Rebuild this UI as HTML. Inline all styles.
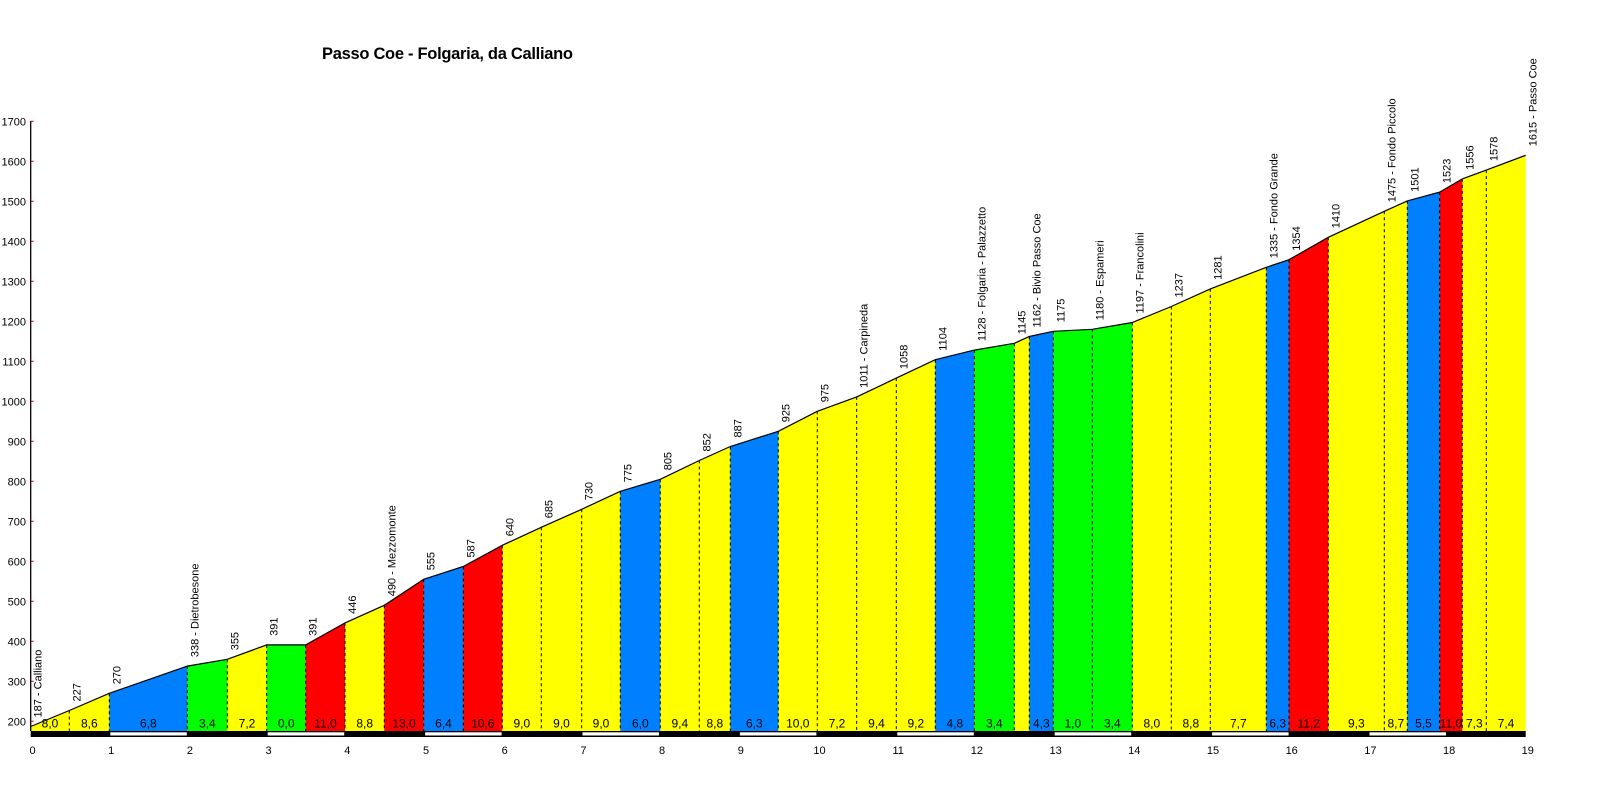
<!DOCTYPE html>
<html><head><meta charset="utf-8"><style>
html,body{margin:0;padding:0;background:#fff;}
svg{display:block;font-family:"Liberation Sans",Arial,sans-serif;}
</style></head><body>
<svg width="1600" height="800" viewBox="0 0 1600 800" xmlns="http://www.w3.org/2000/svg">
<rect width="1600" height="800" fill="#fff"/>
<text x="322" y="59" font-size="16.5" font-weight="bold" textLength="251">Passo Coe - Folgaria, da Calliano</text>

<polygon fill="#ffff00" points="30.7,731 30.7,726.5 69.3,710.5 109.3,693.3 187.3,666.1 227.3,659.3 266.7,644.9 305.7,644.9 345,622.9 384.3,605.3 423.7,579.3 463.3,566.5 502.3,545.3 541.3,527.3 581.7,509.3 620.3,491.3 660.3,479.3 699.3,460.5 730.3,446.5 778.3,431.3 817.3,411.3 856.7,396.9 896.3,378.1 935.3,359.7 974.3,350.1 1014.3,343.3 1029.3,336.5 1053.3,331.3 1092.3,329.3 1132.3,322.5 1171.3,306.5 1210.3,288.9 1266.3,267.3 1289,259.7 1328.3,237.3 1384.3,211.3 1407.3,200.9 1439.7,192.1 1462.3,178.9 1486.3,170.1 1525.7,155.3 1525.7,731"/>
<g>
<polygon fill="#0080ff" points="109.3,731 109.3,693.3 187.3,666.1 187.3,731"/>
<polygon fill="#00ff00" points="187.3,731 187.3,666.1 227.3,659.3 227.3,731"/>
<polygon fill="#00ff00" points="266.7,731 266.7,644.9 305.7,644.9 305.7,731"/>
<polygon fill="#ff0000" points="305.7,731 305.7,644.9 345,622.9 345,731"/>
<polygon fill="#ff0000" points="384.3,731 384.3,605.3 423.7,579.3 423.7,731"/>
<polygon fill="#0080ff" points="423.7,731 423.7,579.3 463.3,566.5 463.3,731"/>
<polygon fill="#ff0000" points="463.3,731 463.3,566.5 502.3,545.3 502.3,731"/>
<polygon fill="#0080ff" points="620.3,731 620.3,491.3 660.3,479.3 660.3,731"/>
<polygon fill="#0080ff" points="730.3,731 730.3,446.5 778.3,431.3 778.3,731"/>
<polygon fill="#0080ff" points="935.3,731 935.3,359.7 974.3,350.1 974.3,731"/>
<polygon fill="#00ff00" points="974.3,731 974.3,350.1 1014.3,343.3 1014.3,731"/>
<polygon fill="#0080ff" points="1029.3,731 1029.3,336.5 1053.3,331.3 1053.3,731"/>
<polygon fill="#00ff00" points="1053.3,731 1053.3,331.3 1092.3,329.3 1132.3,322.5 1132.3,731"/>
<polygon fill="#0080ff" points="1266.3,731 1266.3,267.3 1289,259.7 1289,731"/>
<polygon fill="#ff0000" points="1289,731 1289,259.7 1328.3,237.3 1328.3,731"/>
<polygon fill="#0080ff" points="1407.3,731 1407.3,200.9 1439.7,192.1 1439.7,731"/>
<polygon fill="#ff0000" points="1439.7,731 1439.7,192.1 1462.3,178.9 1462.3,731"/>
</g>
<path fill="none" stroke="#000" stroke-width="1" stroke-dasharray="3,3" d="M69.3,710.5V731 M109.3,693.3V731 M187.3,666.1V731 M227.3,659.3V731 M266.7,644.9V731 M305.7,644.9V731 M345,622.9V731 M384.3,605.3V731 M423.7,579.3V731 M463.3,566.5V731 M502.3,545.3V731 M541.3,527.3V731 M581.7,509.3V731 M620.3,491.3V731 M660.3,479.3V731 M699.3,460.5V731 M730.3,446.5V731 M778.3,431.3V731 M817.3,411.3V731 M856.7,396.9V731 M896.3,378.1V731 M935.3,359.7V731 M974.3,350.1V731 M1014.3,343.3V731 M1029.3,336.5V731 M1053.3,331.3V731 M1092.3,329.3V731 M1132.3,322.5V731 M1171.3,306.5V731 M1210.3,288.9V731 M1266.3,267.3V731 M1289,259.7V731 M1328.3,237.3V731 M1384.3,211.3V731 M1407.3,200.9V731 M1439.7,192.1V731 M1462.3,178.9V731 M1486.3,170.1V731"/>
<polyline fill="none" stroke="#000" stroke-width="1.2" points="30.7,726.5 69.3,710.5 109.3,693.3 187.3,666.1 227.3,659.3 266.7,644.9 305.7,644.9 345,622.9 384.3,605.3 423.7,579.3 463.3,566.5 502.3,545.3 541.3,527.3 581.7,509.3 620.3,491.3 660.3,479.3 699.3,460.5 730.3,446.5 778.3,431.3 817.3,411.3 856.7,396.9 896.3,378.1 935.3,359.7 974.3,350.1 1014.3,343.3 1029.3,336.5 1053.3,331.3 1092.3,329.3 1132.3,322.5 1171.3,306.5 1210.3,288.9 1266.3,267.3 1289,259.7 1328.3,237.3 1384.3,211.3 1407.3,200.9 1439.7,192.1 1462.3,178.9 1486.3,170.1 1525.7,155.3"/>

<line x1="30.7" y1="121" x2="30.7" y2="731" stroke="#000" stroke-width="1.3"/>
<g stroke="#d00000" stroke-width="1">
<path d="M30.7,121.3h3M30.7,161.3h3M30.7,201.3h3M30.7,241.3h3M30.7,281.3h3M30.7,321.3h3M30.7,361.3h3M30.7,401.3h3M30.7,441.3h3M30.7,481.3h3M30.7,521.3h3M30.7,561.3h3M30.7,601.3h3M30.7,641.3h3M30.7,681.3h3M30.7,721.3h3"/>
</g>
<g font-size="11" text-anchor="end" fill="#000">
<text x="26" y="125.3">1700</text><text x="26" y="165.3">1600</text><text x="26" y="205.3">1500</text><text x="26" y="245.3">1400</text><text x="26" y="285.3">1300</text><text x="26" y="325.3">1200</text><text x="26" y="365.3">1100</text><text x="26" y="405.3">1000</text><text x="26" y="445.3">900</text><text x="26" y="485.3">800</text><text x="26" y="525.3">700</text><text x="26" y="565.3">600</text><text x="26" y="605.3">500</text><text x="26" y="645.3">400</text><text x="26" y="685.3">300</text><text x="26" y="725.3">200</text>
</g>

<rect x="30.7" y="731" width="1495" height="6" fill="#000"/>
<g fill="#fff">
<rect x="110.3" y="732.3" width="76.5" height="3.2"/><rect x="267.7" y="732.3" width="76.5" height="3.2"/><rect x="425.1" y="732.3" width="76.5" height="3.2"/><rect x="582.5" y="732.3" width="76.5" height="3.2"/><rect x="739.9" y="732.3" width="76.5" height="3.2"/><rect x="897.3" y="732.3" width="76.5" height="3.2"/><rect x="1054.7" y="732.3" width="76.5" height="3.2"/><rect x="1212.1" y="732.3" width="76.5" height="3.2"/><rect x="1369.5" y="732.3" width="76.5" height="3.2"/>
</g>
<g font-size="11" text-anchor="middle" fill="#000">
<text x="32.5" y="754">0</text><text x="111.2" y="754">1</text><text x="189.9" y="754">2</text><text x="268.6" y="754">3</text><text x="347.3" y="754">4</text><text x="426" y="754">5</text><text x="504.7" y="754">6</text><text x="583.4" y="754">7</text><text x="662.1" y="754">8</text><text x="740.8" y="754">9</text><text x="819.5" y="754">10</text><text x="898.2" y="754">11</text><text x="976.9" y="754">12</text><text x="1055.6" y="754">13</text><text x="1134.3" y="754">14</text><text x="1213" y="754">15</text><text x="1291.7" y="754">16</text><text x="1370.4" y="754">17</text><text x="1449.1" y="754">18</text><text x="1527.8" y="754">19</text>
</g>

<g font-size="12" text-anchor="middle" fill="#000">
<text x="50" y="727.5">8,0</text><text x="89.3" y="727.5">8,6</text><text x="148.3" y="727.5">6,8</text><text x="207.3" y="727.5">3,4</text><text x="247" y="727.5">7,2</text><text x="286.2" y="727.5">0,0</text><text x="325.4" y="727.5">11,0</text><text x="364.7" y="727.5">8,8</text><text x="404" y="727.5">13,0</text><text x="443.5" y="727.5">6,4</text><text x="482.8" y="727.5">10,6</text><text x="521.8" y="727.5">9,0</text><text x="561.5" y="727.5">9,0</text><text x="601" y="727.5">9,0</text><text x="640.3" y="727.5">6,0</text><text x="679.8" y="727.5">9,4</text><text x="714.8" y="727.5">8,8</text><text x="754.3" y="727.5">6,3</text><text x="797.8" y="727.5">10,0</text><text x="837" y="727.5">7,2</text><text x="876.5" y="727.5">9,4</text><text x="915.8" y="727.5">9,2</text><text x="954.8" y="727.5">4,8</text><text x="994.3" y="727.5">3,4</text><text x="1041.3" y="727.5">4,3</text><text x="1072.8" y="727.5">1,0</text><text x="1112.3" y="727.5">3,4</text><text x="1151.8" y="727.5">8,0</text><text x="1190.8" y="727.5">8,8</text><text x="1238.3" y="727.5">7,7</text><text x="1277.7" y="727.5">6,3</text><text x="1308.7" y="727.5">11,2</text><text x="1356.3" y="727.5">9,3</text><text x="1395.8" y="727.5">8,7</text><text x="1423.5" y="727.5">5,5</text><text x="1451" y="727.5">11,0</text><text x="1474.3" y="727.5">7,3</text><text x="1506" y="727.5">7,4</text>
</g>

<g font-size="11" fill="#000">
<text transform="translate(41.7,717.5) rotate(-90)">187 - Calliano</text>
<text transform="translate(80.3,701.5) rotate(-90)">227</text>
<text transform="translate(120.3,684.3) rotate(-90)">270</text>
<text transform="translate(198.3,657.1) rotate(-90)">338 - Dietrobesone</text>
<text transform="translate(238.3,650.3) rotate(-90)">355</text>
<text transform="translate(277.7,635.9) rotate(-90)">391</text>
<text transform="translate(316.7,635.9) rotate(-90)">391</text>
<text transform="translate(356,613.9) rotate(-90)">446</text>
<text transform="translate(395.3,596.3) rotate(-90)">490 - Mezzomonte</text>
<text transform="translate(434.7,570.3) rotate(-90)">555</text>
<text transform="translate(474.3,557.5) rotate(-90)">587</text>
<text transform="translate(513.3,536.3) rotate(-90)">640</text>
<text transform="translate(552.3,518.3) rotate(-90)">685</text>
<text transform="translate(592.7,500.3) rotate(-90)">730</text>
<text transform="translate(631.3,482.3) rotate(-90)">775</text>
<text transform="translate(671.3,470.3) rotate(-90)">805</text>
<text transform="translate(710.3,451.5) rotate(-90)">852</text>
<text transform="translate(741.3,437.5) rotate(-90)">887</text>
<text transform="translate(789.3,422.3) rotate(-90)">925</text>
<text transform="translate(828.3,402.3) rotate(-90)">975</text>
<text transform="translate(867.7,387.9) rotate(-90)">1011 - Carpineda</text>
<text transform="translate(907.3,369.1) rotate(-90)">1058</text>
<text transform="translate(946.3,350.7) rotate(-90)">1104</text>
<text transform="translate(985.3,341.1) rotate(-90)">1128 - Folgaria - Palazzetto</text>
<text transform="translate(1025.3,334.3) rotate(-90)">1145</text>
<text transform="translate(1040.3,327.5) rotate(-90)">1162 - Bivio Passo Coe</text>
<text transform="translate(1064.3,322.3) rotate(-90)">1175</text>
<text transform="translate(1103.3,320.3) rotate(-90)">1180 - Espameri</text>
<text transform="translate(1143.3,313.5) rotate(-90)">1197 - Francolini</text>
<text transform="translate(1182.3,297.5) rotate(-90)">1237</text>
<text transform="translate(1221.3,279.9) rotate(-90)">1281</text>
<text transform="translate(1277.3,258.3) rotate(-90)">1335 - Fondo Grande</text>
<text transform="translate(1300,250.7) rotate(-90)">1354</text>
<text transform="translate(1339.3,228.3) rotate(-90)">1410</text>
<text transform="translate(1395.3,202.3) rotate(-90)">1475 - Fondo Piccolo</text>
<text transform="translate(1418.3,191.9) rotate(-90)">1501</text>
<text transform="translate(1450.7,183.1) rotate(-90)">1523</text>
<text transform="translate(1473.3,169.9) rotate(-90)">1556</text>
<text transform="translate(1497.3,161.1) rotate(-90)">1578</text>
<text transform="translate(1536.7,146.3) rotate(-90)">1615 - Passo Coe</text>
</g>
</svg>
</body></html>
